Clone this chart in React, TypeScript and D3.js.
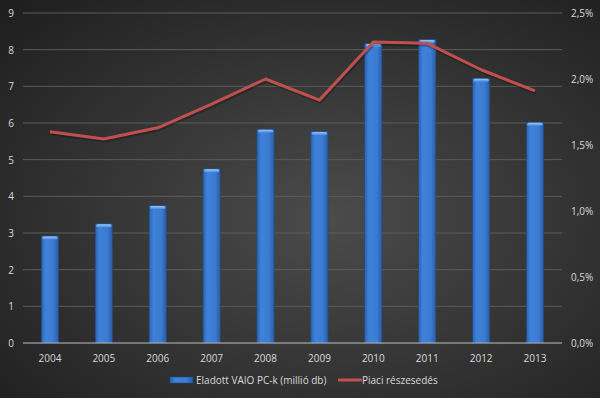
import React, { useEffect, useRef } from 'react';
import * as d3 from 'd3';

const width = 600;
const height = 398;

const years = ['2004', '2005', '2006', '2007', '2008', '2009', '2010', '2011', '2012', '2013'];
const unitsSold = [2.92, 3.25, 3.75, 4.75, 5.83, 5.77, 8.17, 8.28, 7.22, 6.02];
const marketShare = [0.0160, 0.01545, 0.0163, 0.0181, 0.0200, 0.0184, 0.0228, 0.0227, 0.0207, 0.0191];
const leftTicks = [0, 1, 2, 3, 4, 5, 6, 7, 8, 9];
const rightTicks = [0, 0.005, 0.01, 0.015, 0.02, 0.025];

const margin = { top: 13, right: 38, bottom: 55, left: 23 };
const font = 'Open Sans, Liberation Sans, sans-serif';

function App() {
  const ref = useRef<SVGSVGElement | null>(null);

  useEffect(() => {
    const svg = d3.select(ref.current);
    svg.selectAll('*').remove();

    const defs = svg.append('defs');
    const bg = defs.append('radialGradient').attr('id', 'bg').attr('cx', '55%').attr('cy', '55%').attr('r', '75%');
    bg.append('stop').attr('offset', '0%').attr('stop-color', '#4b4b4b');
    bg.append('stop').attr('offset', '100%').attr('stop-color', '#1f1f1f');

    const barGrad = defs.append('linearGradient').attr('id', 'bar').attr('x1', '0').attr('x2', '1').attr('y1', '0').attr('y2', '0');
    barGrad.append('stop').attr('offset', '0%').attr('stop-color', '#2c64b0');
    barGrad.append('stop').attr('offset', '25%').attr('stop-color', '#3f82da');
    barGrad.append('stop').attr('offset', '70%').attr('stop-color', '#3b7bd2');
    barGrad.append('stop').attr('offset', '100%').attr('stop-color', '#2a5ca2');

    const capGrad = defs.append('linearGradient').attr('id', 'cap').attr('x1', '0').attr('x2', '0').attr('y1', '0').attr('y2', '1');
    capGrad.append('stop').attr('offset', '0%').attr('stop-color', '#9cc6f5');
    capGrad.append('stop').attr('offset', '100%').attr('stop-color', '#4a8ce0');

    svg.append('rect').attr('width', width).attr('height', height).attr('fill', 'url(#bg)');

    const innerW = width - margin.left - margin.right;
    const innerH = height - margin.top - margin.bottom;

    const x = d3.scaleBand().domain(years).range([margin.left, margin.left + innerW]).paddingInner(0.68).paddingOuter(0.34);
    const y = d3.scaleLinear().domain([0, 9]).range([margin.top + innerH, margin.top]);
    const y2 = d3.scaleLinear().domain([0, 0.025]).range([margin.top + innerH, margin.top]);

    // gridlines
    svg.append('g')
      .selectAll('line')
      .data(leftTicks.filter(d => d > 0))
      .enter()
      .append('line')
      .attr('x1', margin.left)
      .attr('x2', margin.left + innerW)
      .attr('y1', d => y(d))
      .attr('y2', d => y(d))
      .attr('stroke', '#5c5c5c')
      .attr('stroke-width', 1);

    // left labels
    svg.append('g')
      .selectAll('text')
      .data(leftTicks)
      .enter()
      .append('text')
      .attr('x', 11)
      .attr('y', d => y(d) + 4)
      .attr('text-anchor', 'middle')
      .attr('fill', '#d9d9d9')
      .style('font-family', font)
      .style('font-size', '10px')
      .text(d => d);

    // right labels
    svg.append('g')
      .selectAll('text')
      .data(rightTicks)
      .enter()
      .append('text')
      .attr('x', 571)
      .attr('y', d => y2(d) + 4)
      .attr('fill', '#d9d9d9')
      .style('font-family', font)
      .style('font-size', '10px')
      .text(d => d3.format('.1f')(d * 100).replace('.', ',') + '%');

    // bars
    const bars = svg.append('g')
      .selectAll('g')
      .data(years)
      .enter()
      .append('g');
    bars.append('rect')
      .attr('x', d => x(d)!)
      .attr('y', (d, i) => y(unitsSold[i]))
      .attr('width', x.bandwidth())
      .attr('height', (d, i) => y(0) - y(unitsSold[i]))
      .attr('fill', 'url(#bar)')
      .attr('stroke', '#1e4a86')
      .attr('stroke-width', 0.6);
    bars.append('rect')
      .attr('x', d => x(d)! + 1)
      .attr('y', (d, i) => y(unitsSold[i]) + 0.5)
      .attr('width', x.bandwidth() - 2)
      .attr('height', 3)
      .attr('rx', 1.5)
      .attr('fill', 'url(#cap)');

    // baseline
    svg.append('line')
      .attr('x1', margin.left)
      .attr('x2', margin.left + innerW)
      .attr('y1', y(0))
      .attr('y2', y(0))
      .attr('stroke', '#bfbfbf')
      .attr('stroke-width', 1);

    // x labels
    svg.append('g')
      .selectAll('text')
      .data(years)
      .enter()
      .append('text')
      .attr('x', d => x(d)! + x.bandwidth() / 2)
      .attr('y', y(0) + 19)
      .attr('text-anchor', 'middle')
      .attr('fill', '#d9d9d9')
      .style('font-family', font)
      .style('font-size', '10px')
      .text(d => d);

    // line
    const line = d3.line<number>()
      .x((d, i) => x(years[i])! + x.bandwidth() / 2)
      .y(d => y2(d));
    svg.append('path')
      .datum(marketShare)
      .attr('d', line)
      .attr('fill', 'none')
      .attr('stroke', '#000')
      .attr('stroke-opacity', 0.25)
      .attr('stroke-width', 3)
      .attr('transform', 'translate(1,2)');
    svg.append('path')
      .datum(marketShare)
      .attr('d', line)
      .attr('fill', 'none')
      .attr('stroke', '#c0504d')
      .attr('stroke-width', 3)
      .attr('stroke-linejoin', 'round');

    // legend
    const ly = 380;
    svg.append('rect')
      .attr('x', 170).attr('y', ly - 3).attr('width', 23).attr('height', 6)
      .attr('fill', 'url(#bar)').attr('stroke', '#1e4a86').attr('stroke-width', 0.5);
    svg.append('text')
      .attr('x', 196).attr('y', ly + 4)
      .attr('fill', '#d9d9d9')
      .style('font-family', font)
      .style('font-size', '10px')
      .text('Eladott VAIO PC-k (millió db)');
    svg.append('line')
      .attr('x1', 338).attr('x2', 362).attr('y1', ly).attr('y2', ly)
      .attr('stroke', '#c0504d').attr('stroke-width', 3);
    svg.append('text')
      .attr('x', 362).attr('y', ly + 4)
      .attr('fill', '#d9d9d9')
      .style('font-family', font)
      .style('font-size', '10px')
      .text('Piaci részesedés');
  }, []);

  return (
    <svg ref={ref} width={width} height={height} style={{ position: 'absolute', left: 0, top: 0, display: 'block' }} />
  );
}

export default App;
